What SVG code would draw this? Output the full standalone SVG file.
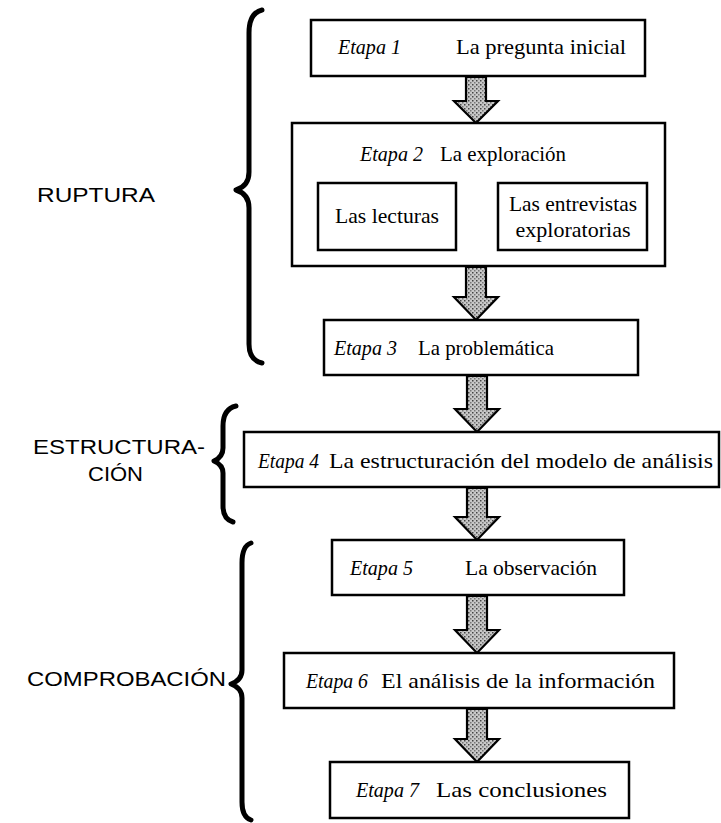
<svg xmlns="http://www.w3.org/2000/svg" width="721" height="823" viewBox="0 0 721 823">
<defs>
<pattern id="stip" width="4" height="4" patternUnits="userSpaceOnUse">
<rect width="4" height="4" fill="#c8c8c8"/>
<rect x="0" y="0" width="1.5" height="1.5" fill="#444"/>
<rect x="2" y="2" width="1.5" height="1.5" fill="#777"/>
</pattern>
<marker id="ah" viewBox="0 0 10 10" refX="9" refY="5" markerWidth="4" markerHeight="4" orient="auto">
<path d="M0,0 L10,5 L0,10 Z" fill="#000"/>
</marker>
<style>
.box{fill:#fff;stroke:#000;stroke-width:2.5}
.et{font-family:"Liberation Serif",serif;font-style:italic;font-size:21px;fill:#000}
.tx{font-family:"Liberation Serif",serif;font-size:21px;fill:#000}
.lab{font-family:"Liberation Sans",Arial,sans-serif;font-size:21px;fill:#000}
.br{fill:none;stroke:#000;stroke-width:5;stroke-linecap:round;stroke-linejoin:round}
.ar{fill:url(#stip);stroke:#000;stroke-width:2.2;stroke-linejoin:miter}
.ln{stroke:#000;stroke-width:3;fill:none}
</style>
</defs>
<rect width="721" height="823" fill="#fff"/>

<g id="labels">
<text class="lab" x="37" y="202" textLength="118" lengthAdjust="spacingAndGlyphs">RUPTURA</text>
<text class="lab" x="33" y="454" textLength="172" lengthAdjust="spacingAndGlyphs">ESTRUCTURA-</text>
<text class="lab" x="88" y="481" textLength="55" lengthAdjust="spacingAndGlyphs">CIÓN</text>
<text class="lab" x="27" y="686" textLength="199" lengthAdjust="spacingAndGlyphs">COMPROBACIÓN</text>
</g>

<g id="braces">
<path class="br" d="M262,10 Q249,13 249,33 L249,172 Q249,186 236,190 Q249,194 249,208 L249,344 Q249,360 262,363"/>
<path class="br" d="M236,406 Q223,409 223,426 L223,448 Q223,457 214,461 Q223,465 223,473 L223,506 Q223,519 233,522"/>
<path class="br" d="M251,543 Q242,546 242,563 L242,670 Q242,680 231,684 Q242,688 242,698 L242,802 Q242,817 251,820"/>
</g>

<g id="connectors">
<path class="ar" d="M466,77 L486,77 L486,101 L498,101 L476,123 L454,101 L466,101 Z"/>
<path class="ar" d="M466,267 L486,267 L486,297 L498,297 L476,320 L454,297 L466,297 Z"/>
<path class="ar" d="M467,376 L487,376 L487,409 L499,409 L477,432 L455,409 L467,409 Z"/>
<path class="ar" d="M467,488 L487,488 L487,517 L499,517 L477,540 L455,517 L467,517 Z"/>
<path class="ar" d="M467,596 L487,596 L487,630 L499,630 L477,653 L455,630 L467,630 Z"/>
<path class="ar" d="M467,709 L487,709 L487,739 L499,739 L477,762 L455,739 L467,739 Z"/>
<line class="ln" x1="457" y1="207" x2="496" y2="207" marker-end="url(#ah)"/>
<line class="ln" x1="498" y1="231" x2="459" y2="231" marker-end="url(#ah)"/>
</g>

<g id="etapa1">
<rect class="box" x="311" y="20" width="334" height="56"/>
<text class="et" x="338" y="54" textLength="63" lengthAdjust="spacingAndGlyphs">Etapa 1</text>
<text class="tx" x="456" y="54" textLength="170" lengthAdjust="spacingAndGlyphs">La pregunta inicial</text>
</g>

<g id="etapa2">
<rect class="box" x="292" y="123" width="373" height="143"/>
<text class="et" x="360" y="161" textLength="63" lengthAdjust="spacingAndGlyphs">Etapa 2</text>
<text class="tx" x="440" y="161" textLength="126" lengthAdjust="spacingAndGlyphs">La exploración</text>
</g>

<g id="lecturas">
<rect class="box" x="318" y="183" width="138" height="67"/>
<text class="tx" x="387" y="223" text-anchor="middle" textLength="104" lengthAdjust="spacingAndGlyphs">Las lecturas</text>
</g>

<g id="entrevistas">
<rect class="box" x="498" y="183" width="149" height="67"/>
<text class="tx" x="573" y="211" text-anchor="middle" textLength="128" lengthAdjust="spacingAndGlyphs">Las entrevistas</text>
<text class="tx" x="573" y="237" text-anchor="middle" textLength="115" lengthAdjust="spacingAndGlyphs">exploratorias</text>
</g>

<g id="etapa3">
<rect class="box" x="324" y="320" width="314" height="55"/>
<text class="et" x="334" y="355" textLength="63" lengthAdjust="spacingAndGlyphs">Etapa 3</text>
<text class="tx" x="418" y="355" textLength="136" lengthAdjust="spacingAndGlyphs">La problemática</text>
</g>

<g id="etapa4">
<rect class="box" x="244" y="432" width="475" height="55"/>
<text class="et" x="258" y="468" textLength="61" lengthAdjust="spacingAndGlyphs">Etapa 4</text>
<text class="tx" x="329" y="468" textLength="384" lengthAdjust="spacingAndGlyphs">La estructuración del modelo de análisis</text>
</g>

<g id="etapa5">
<rect class="box" x="332" y="540" width="292" height="55"/>
<text class="et" x="350" y="575" textLength="63" lengthAdjust="spacingAndGlyphs">Etapa 5</text>
<text class="tx" x="465" y="575" textLength="132" lengthAdjust="spacingAndGlyphs">La observación</text>
</g>

<g id="etapa6">
<rect class="box" x="284" y="653" width="390" height="55"/>
<text class="et" x="306" y="688" textLength="62" lengthAdjust="spacingAndGlyphs">Etapa 6</text>
<text class="tx" x="381" y="688" textLength="274" lengthAdjust="spacingAndGlyphs">El análisis de la información</text>
</g>

<g id="etapa7">
<rect class="box" x="330" y="762" width="299" height="56"/>
<text class="et" x="356" y="797" textLength="63" lengthAdjust="spacingAndGlyphs">Etapa 7</text>
<text class="tx" x="436" y="797" textLength="171" lengthAdjust="spacingAndGlyphs">Las conclusiones</text>
</g>
</svg>
